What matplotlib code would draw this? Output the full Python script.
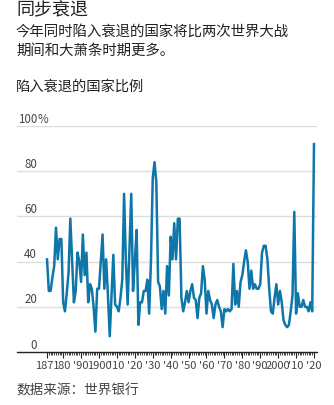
import numpy as np
import matplotlib.pyplot as plt
from matplotlib.ticker import FixedLocator

plt.rcParams['font.family'] = ['Noto Sans CJK SC', 'DejaVu Sans']

# 陷入衰退的国家比例（%），1871-2020
years = np.arange(1871, 2021)
share = [
    41, 27, 27, 33, 38, 55, 41, 50, 50, 22,   # 1871-1880
    18, 26, 35, 59, 40, 22, 27, 44, 40, 31,   # 1881-1890
    52, 34, 44, 22, 30, 28, 20, 9, 28, 28,    # 1891-1900
    40, 52, 28, 41, 25, 7, 25, 43, 21, 20,    # 1901-1910
    18, 24, 32, 70, 40, 21, 45, 70, 27, 40,   # 1911-1920
    54, 12, 22, 22, 27, 27, 32, 17, 40, 77,   # 1921-1930
    84, 75, 31, 29, 19, 27, 17, 38, 25, 51,   # 1931-1940
    41, 57, 41, 59, 59, 24, 18, 22, 27, 22,   # 1941-1950
    27, 30, 24, 23, 15, 24, 26, 38, 32, 17,   # 1951-1960
    27, 23, 21, 15, 21, 23, 20, 18, 11, 19,   # 1961-1970
    18, 19, 18, 19, 39, 21, 27, 20, 31, 34,   # 1971-1980
    40, 45, 40, 28, 36, 28, 30, 28, 28, 30,   # 1981-1990
    44, 47, 47, 41, 28, 18, 17, 24, 30, 21,   # 1991-2000
    27, 22, 14, 12, 11, 12, 18, 25, 62, 17,   # 2001-2010
    26, 20, 20, 23, 20, 20, 18, 22, 18, 92,   # 2011-2020
]
assert len(share) == len(years)

xtick_years = [1871] + list(range(1880, 2021, 10))
xtick_labels = ['1871', "'80", "'90", '1900', "'10", "'20", "'30", "'40",
                "'50", "'60", "'70", "'80", "'90", '2000', "'10", "'20"]
ytick_values = [0, 20, 40, 60, 80, 100]

W, H = 334, 406
fig = plt.figure(figsize=(W / 100, H / 100), dpi=100)

# 绘图区（像素坐标换算）
left, right, bottom, top = 17, 317, 353, 127
ax = fig.add_axes([left / W, 1 - bottom / H, (right - left) / W, (bottom - top) / H])

x_left = 1871 - (47 - left) / 1.79
x_right = 2020 + (right - 314) / 1.79
ax.set_xlim(x_left, x_right)
ax.set_ylim(0, 100)

for v in ytick_values[1:]:
    ax.axhline(v, color='#dddddd', lw=1, zorder=1)

ax.plot(years, share, color='#0e76a8', lw=1.8, solid_joinstyle='round', zorder=3, clip_on=False)

for s in ['top', 'right', 'left']:
    ax.spines[s].set_visible(False)
ax.spines['bottom'].set_color('#222222')
ax.spines['bottom'].set_linewidth(1)

ax.set_yticks([])
ax.xaxis.set_major_locator(FixedLocator(xtick_years))
ax.set_xticklabels(xtick_labels)
ax.xaxis.set_minor_locator(FixedLocator(list(range(1871, 2021))))
ax.tick_params(axis='x', which='major', length=4, width=0.8, color='#222222',
               labelsize=8, labelcolor='#444444', pad=2)
ax.tick_params(axis='x', which='minor', length=2.5, width=0.6, color='#222222')

# y轴刻度标签：数字右对齐，%悬挂在右侧
ylab_x = (37 - left) / (right - left)
ytr = ax.get_yaxis_transform()
for v in ytick_values:
    ax.text(ylab_x, v + 0.6, str(v), transform=ytr, ha='right', va='bottom',
            fontsize=8.3, color='#444444')
ax.text(ylab_x, 100 + 0.6, '%', transform=ytr, ha='left', va='bottom',
        fontsize=8.3, color='#444444')

def fig_text(x, y, s, size, color):
    fig.text(x / W, 1 - y / H, s, fontsize=size, color=color, ha='left', va='top')

fig_text(16, 1, '同步衰退', 13, '#222222')
fig_text(16, 25, '今年同时陷入衰退的国家将比两次世界大战', 10.4, '#222222')
fig_text(16, 44, '期间和大萧条时期更多。', 10.4, '#222222')
fig_text(16, 80, '陷入衰退的国家比例', 10.3, '#222222')
fig_text(16, 383, '数据来源：世界银行', 9.8, '#444444')

fig.savefig('out.png', dpi=100)
